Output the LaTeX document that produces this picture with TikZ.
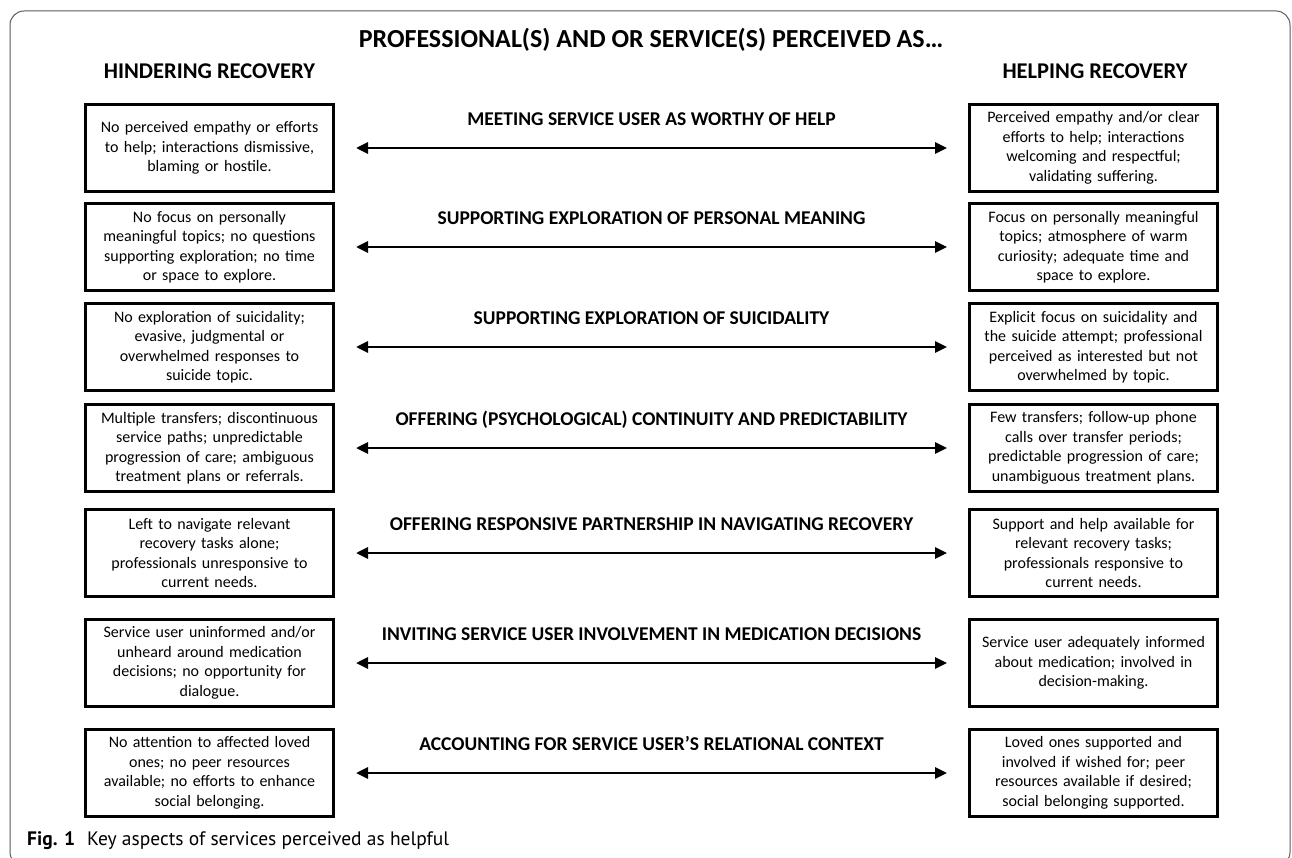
\documentclass[tikz,border=0pt]{standalone}
\usepackage{fontspec}
\setmainfont{Carlito}
\newfontfamily\capfont{PT Sans}
\usetikzlibrary{positioning}
\usetikzlibrary{arrows.meta}

\begin{document}
\begin{tikzpicture}[x=1pt, y=-1pt,
sidebox/.style={rectangle, draw=black, line width=3pt, minimum width=248pt, minimum height=87pt, text width=244pt, align=center, inner sep=0pt, font=\fontsize{16}{19.5}\selectfont},
rowlabel/.style={anchor=base, yshift=22.7pt, font=\bfseries\fontsize{19.5}{22}\selectfont},
headlabel/.style={anchor=base, font=\bfseries\fontsize{22.5}{26}\selectfont},
linkarrow/.style={<->, >={Triangle[length=12pt,width=11pt]}, line width=2.8pt, shorten <=21pt, shorten >=21pt}]
\useasboundingbox (0,0) rectangle (1292,858);
\clip (0,0) rectangle (1292,858);

% frame and headings
\draw[black!65, line width=1pt, rounded corners=14pt] (10,11) rectangle (1290,866);
\node[headlabel, font=\bfseries\fontsize{26}{30}\selectfont] (title) at (651,47.5) {PROFESSIONAL(S) AND OR SERVICE(S) PERCEIVED AS…};
\node[headlabel] (hinder) at (209.5,78.5) {HINDERING RECOVERY};
\node[headlabel] (help) at (1095,78.5) {HELPING RECOVERY};

% hindering side
\node[sidebox] (h1) at (209.5,148) {No perceived empathy or efforts\\to help; interactions dismissive,\\blaming or hostile.};
\node[sidebox] (h2) [below=9pt of h1] {No focus on personally\\meaningful topics; no questions\\supporting exploration; no time\\or space to explore.};
\node[sidebox] (h3) [below=10pt of h2] {No exploration of suicidality;\\evasive, judgmental or\\overwhelmed responses to\\suicide topic.};
\node[sidebox] (h4) [below=11pt of h3] {Multiple transfers; discontinuous\\service paths; unpredictable\\progression of care; ambiguous\\treatment plans or referrals.};
\node[sidebox] (h5) [below=15pt of h4] {Left to navigate relevant\\recovery tasks alone;\\professionals unresponsive to\\current needs.};
\node[sidebox] (h6) [below=20pt of h5] {Service user uninformed and/or\\unheard around medication\\decisions; no opportunity for\\dialogue.};
\node[sidebox] (h7) [below=20pt of h6] {No attention to affected loved\\ones; no peer resources\\available; no efforts to enhance\\social belonging.};

% helping side
\node[sidebox] (p1) [right=633pt of h1] {Perceived empathy and/or clear\\efforts to help; interactions\\welcoming and respectful;\\validating suffering.};
\node[sidebox] (p2) [right=633pt of h2] {Focus on personally meaningful\\topics; atmosphere of warm\\curiosity; adequate time and\\space to explore.};
\node[sidebox] (p3) [right=633pt of h3] {Explicit focus on suicidality and\\the suicide attempt; professional\\perceived as interested but not\\overwhelmed by topic.};
\node[sidebox] (p4) [right=633pt of h4] {Few transfers; follow-up phone\\calls over transfer periods;\\predictable progression of care;\\unambiguous treatment plans.};
\node[sidebox] (p5) [right=633pt of h5] {Support and help available for\\relevant recovery tasks;\\professionals responsive to\\current needs.};
\node[sidebox] (p6) [right=633pt of h6] {Service user adequately informed\\about medication; involved in\\decision-making.};
\node[sidebox] (p7) [right=633pt of h7] {Loved ones supported and\\involved if wished for; peer\\resources available if desired;\\social belonging supported.};

% aspects
\draw[linkarrow] (h1) -- (p1) node[rowlabel, midway] (a1) {MEETING SERVICE USER AS WORTHY OF HELP};
\draw[linkarrow] (h2) -- (p2) node[rowlabel, midway] (a2) {SUPPORTING EXPLORATION OF PERSONAL MEANING};
\draw[linkarrow] (h3) -- (p3) node[rowlabel, midway] (a3) {SUPPORTING EXPLORATION OF SUICIDALITY};
\draw[linkarrow] (h4) -- (p4) node[rowlabel, midway] (a4) {OFFERING (PSYCHOLOGICAL) CONTINUITY AND PREDICTABILITY};
\draw[linkarrow] (h5) -- (p5) node[rowlabel, midway] (a5) {OFFERING RESPONSIVE PARTNERSHIP IN NAVIGATING RECOVERY};
\draw[linkarrow] (h6) -- (p6) node[rowlabel, midway] (a6) {INVITING SERVICE USER INVOLVEMENT IN MEDICATION DECISIONS};
\draw[linkarrow] (h7) -- (p7) node[rowlabel, midway] (a7) {ACCOUNTING FOR SERVICE USER’S RELATIONAL CONTEXT};

% caption
\node[anchor=base west, inner sep=0pt, font=\capfont\fontsize{19.5}{22}\selectfont] (cap) at (27,845) {\textbf{Fig. 1}\hspace{12pt}Key aspects of services perceived as helpful};
\end{tikzpicture}
\end{document}
